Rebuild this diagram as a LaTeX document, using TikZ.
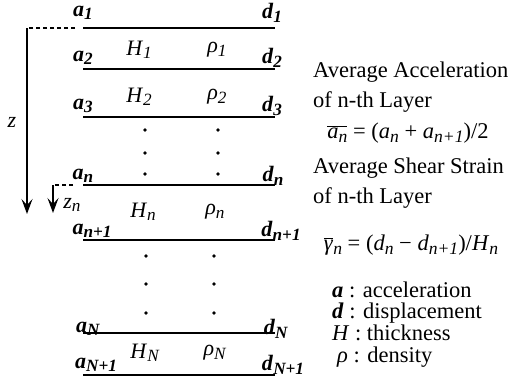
\documentclass[tikz,border=0pt]{standalone}
\usepackage{fontspec}
\setmainfont{Liberation Serif}
\usetikzlibrary{arrows.meta}
\newcommand{\lsub}[2]{\textit{#1}\raisebox{-0.35ex}{\scalebox{0.78}{\textit{#2}}}}
\tikzset{
  >={Stealth[length=15pt,width=11pt,inset=6pt]},
  layer/.style={line width=1.7pt},
  axis/.style={line width=1.7pt,->},
  guide/.style={line width=1.3pt,dash pattern=on 4pt off 3pt},
  sym/.style={font=\fontsize{22}{24}\selectfont\bfseries,inner sep=0pt},
  prop/.style={font=\fontsize{22}{24}\selectfont,inner sep=0pt},
  dot/.style={circle,fill,inner sep=0pt,minimum size=3.8pt},
  note/.style={font=\fontsize{22.5}{26}\selectfont,anchor=base west,inner sep=0pt},
}
\begin{document}
\begin{tikzpicture}[x=1pt,y=-1pt]
  \useasboundingbox (0,0) rectangle (525,378);
  % layer boundaries
  \foreach \y/\i in {28/1,69/2,117/3,185/n,240/n1,333/N,375/N1}{
    \coordinate (w\i) at (83,\y);
    \coordinate (e\i) at (275,\y);
    \draw[layer] (w\i) -- (e\i);
  }
  \node[sym] (a1) at (83,13) {\lsub{a}{1}};
  \node[sym] (d1) at (272,13) {\lsub{d}{1}};
  \node[sym] (a2) at (83,58) {\lsub{a}{2}};
  \node[sym] (d2) at (272,58) {\lsub{d}{2}};
  \node[sym] (a3) at (83,106) {\lsub{a}{3}};
  \node[sym] (d3) at (272,106) {\lsub{d}{3}};
  \node[sym] (an) at (83,176) {\lsub{a}{n}};
  \node[sym] (dn) at (273,176) {\lsub{d}{n}};
  \node[sym] (an1) at (92,231) {\lsub{a}{n+1}};
  \node[sym] (dn1) at (281,231) {\lsub{d}{n+1}};
  \node[sym] (aN) at (88,329) {\lsub{a}{N}};
  \node[sym] (dN) at (276,329) {\lsub{d}{N}};
  \node[sym] (aN1) at (96,365) {\lsub{a}{N+1}};
  \node[sym] (dN1) at (283,365) {\lsub{d}{N+1}};
  \node[prop] (H1) at (139,50) {\lsub{H}{1}};
  \node[prop] (rho1) at (217,50) {\lsub{ρ}{1}};
  \node[prop] (H2) at (139,97) {\lsub{H}{2}};
  \node[prop] (rho2) at (217,97) {\lsub{ρ}{2}};
  \node[prop] (Hn) at (143,212) {\lsub{H}{n}};
  \node[prop] (rhon) at (215,212) {\lsub{ρ}{n}};
  \node[prop] (HN) at (145,353) {\lsub{H}{N}};
  \node[prop] (rhoN) at (215,353) {\lsub{ρ}{N}};
  \foreach \y in {130,153,174}{
    \node[dot] at (145,\y) {};
    \node[dot] at (218,\y) {};
  }
  \foreach \y in {256,284,313}{
    \node[dot] at (146,\y) {};
    \node[dot] at (214,\y) {};
  }
  % depth axes
  \coordinate (ztop) at (27,28);
  \coordinate (zdash) at (75,28);
  \coordinate (zend) at (27,214);
  \draw[guide] (zdash) -- (ztop);
  \draw[axis] (ztop) -- (zend);
  \node[prop] (z) at (12,122) {\textit{z}};
  \coordinate (zntop) at (53,185);
  \coordinate (zndash) at (73,185);
  \coordinate (znend) at (53,213);
  \draw[guide] (zndash) -- (zntop);
  \draw[axis] (zntop) -- (znend);
  \node[prop] (zn) at (72,205) {\lsub{z}{n}};
  % definitions
  \node[note] (acc1) at (313,77) {Average Acceleration};
  \node[note] (acc2) at (313,107) {of n-th Layer};
  \node[note,anchor=center] (accf) at (408,133)
    {$\overline{\hbox{\lsub{a}{n}}}$ = (\lsub{a}{n} + \lsub{a}{n+1})/2};
  \node[note] (str1) at (313,173) {Average Shear Strain};
  \node[note] (str2) at (313,203) {of n-th Layer};
  \node[note,anchor=center] (strf) at (411,245)
    {$\overline{\hbox{\textit{γ}}}$\raisebox{-0.35ex}{\scalebox{0.78}{\textit{n}}} = (\lsub{d}{n} − \lsub{d}{n+1})/\lsub{H}{n}};
  \node[note] (la) at (332,297) {\textbf{\textit{a}} : acceleration};
  \node[note] (ld) at (332,318) {\textbf{\textit{d}} : displacement};
  \node[note] (lH) at (332,340) {\textit{H} : thickness};
  \node[note] (lrho) at (337,362) {\textit{ρ} : density};
\end{tikzpicture}
\end{document}
